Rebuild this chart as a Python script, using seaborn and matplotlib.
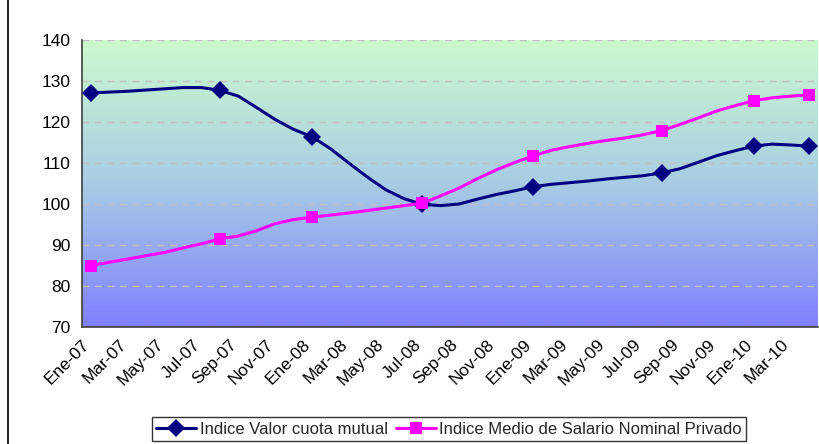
import numpy as np
import pandas as pd
import matplotlib
matplotlib.use("Agg")
import matplotlib.pyplot as plt
import seaborn as sns
from matplotlib.lines import Line2D

# monthly index values, Ene-07 .. Abr-10
mutual = [127.1, 127.3, 127.5, 127.8, 128.1, 128.4, 128.4, 127.7, 126.3, 123.5,
          120.6, 118.2, 116.4, 113.5, 110.0, 106.6, 103.5, 101.3, 99.9, 99.6,
          100.0, 101.2, 102.3, 103.2, 104.2, 104.8, 105.2, 105.6, 106.1, 106.5,
          106.9, 107.6, 108.6, 110.2, 111.8, 113.0, 114.1, 114.6, 114.4, 114.1]
salario = [85.0, 85.8, 86.6, 87.4, 88.2, 89.3, 90.3, 91.5, 92.2, 93.5,
           95.2, 96.2, 96.8, 97.3, 97.8, 98.4, 99.0, 99.6, 100.2, 102.0,
           103.9, 106.2, 108.3, 110.1, 111.7, 113.1, 114.0, 114.8, 115.5, 116.1,
           116.9, 117.9, 119.4, 121.0, 122.7, 124.0, 125.2, 125.9, 126.3, 126.6]
marker_months = [0, 7, 12, 18, 24, 31, 36, 39]
tick_labels = ['Ene-07', 'Mar-07', 'May-07', 'Jul-07', 'Sep-07', 'Nov-07',
               'Ene-08', 'Mar-08', 'May-08', 'Jul-08', 'Sep-08', 'Nov-08',
               'Ene-09', 'Mar-09', 'May-09', 'Jul-09', 'Sep-09', 'Nov-09',
               'Ene-10', 'Mar-10']

df = pd.DataFrame({'mes': np.arange(len(mutual)), 'mutual': mutual, 'salario': salario})

sns.set_style("white")
plt.rcParams['font.family'] = ['Liberation Sans', 'DejaVu Sans']

fig = plt.figure(figsize=(8.19, 4.44), dpi=100)
ax = fig.add_axes([82/819, 1 - 327/444, 736/819, 287/444])

# gradient background: light green at top to blue-violet at bottom
top = np.array([204, 250, 206]) / 255
mid = np.array([168, 204, 228]) / 255
bot = np.array([128, 128, 255]) / 255
t = np.linspace(0, 1, 256)[:, None]
grad = np.where(t < 0.5, top + (mid - top) * (t / 0.5), mid + (bot - mid) * ((t - 0.5) / 0.5))
ax.imshow(grad[:, None, :], extent=(-0.5, 39.5, 70, 140), aspect='auto', zorder=0,
          interpolation='bilinear')

sns.lineplot(data=df, x='mes', y='mutual', ax=ax, color='#000080', linewidth=2.2,
             marker='D', markersize=9, markevery=marker_months, markeredgewidth=0,
             label='Indice Valor cuota mutual', zorder=3)
sns.lineplot(data=df, x='mes', y='salario', ax=ax, color='#FF00FF', linewidth=2.2,
             marker='s', markersize=8.5, markevery=marker_months, markeredgewidth=0,
             label='Indice Medio de Salario Nominal Privado', zorder=3)

ax.set_xlim(-0.5, 39.5)
ax.set_ylim(70, 140)
ax.set_yticks(range(70, 141, 10))
ax.set_xticks(np.arange(-0.5, 38, 2))
ax.set_xticklabels(tick_labels, rotation=45, ha='right', rotation_mode='anchor')
ax.set_xlabel('')
ax.set_ylabel('')
ax.yaxis.grid(True, linestyle=(0, (5, 4)), color='#C0C0C0', linewidth=1)
ax.xaxis.grid(False)

for s in ['top', 'right']:
    ax.spines[s].set_visible(False)
for s in ['left', 'bottom']:
    ax.spines[s].set_color('#404040')
    ax.spines[s].set_linewidth(1.2)
ax.tick_params(axis='both', direction='out', length=5, width=1, color='#404040',
               labelsize=12.5, labelcolor='black')
ax.tick_params(axis='x', labelsize=12.5, pad=2)

ax.get_legend().remove()
handles, labels = ax.get_legend_handles_labels()
leg = fig.legend(handles, labels, loc='center', bbox_to_anchor=(449/819, 1 - 429/444),
                 ncol=2, frameon=True, fancybox=False, fontsize=12,
                 handlelength=2.4, handletextpad=0.2, columnspacing=0.5,
                 borderpad=0.25, edgecolor='black')
leg.get_frame().set_linewidth(1)

# outer chart frame (left side visible)
fig.add_artist(Line2D([8/819, 8/819], [0, 1], color='black', linewidth=1.2))

fig.savefig('out.png', dpi=100)
